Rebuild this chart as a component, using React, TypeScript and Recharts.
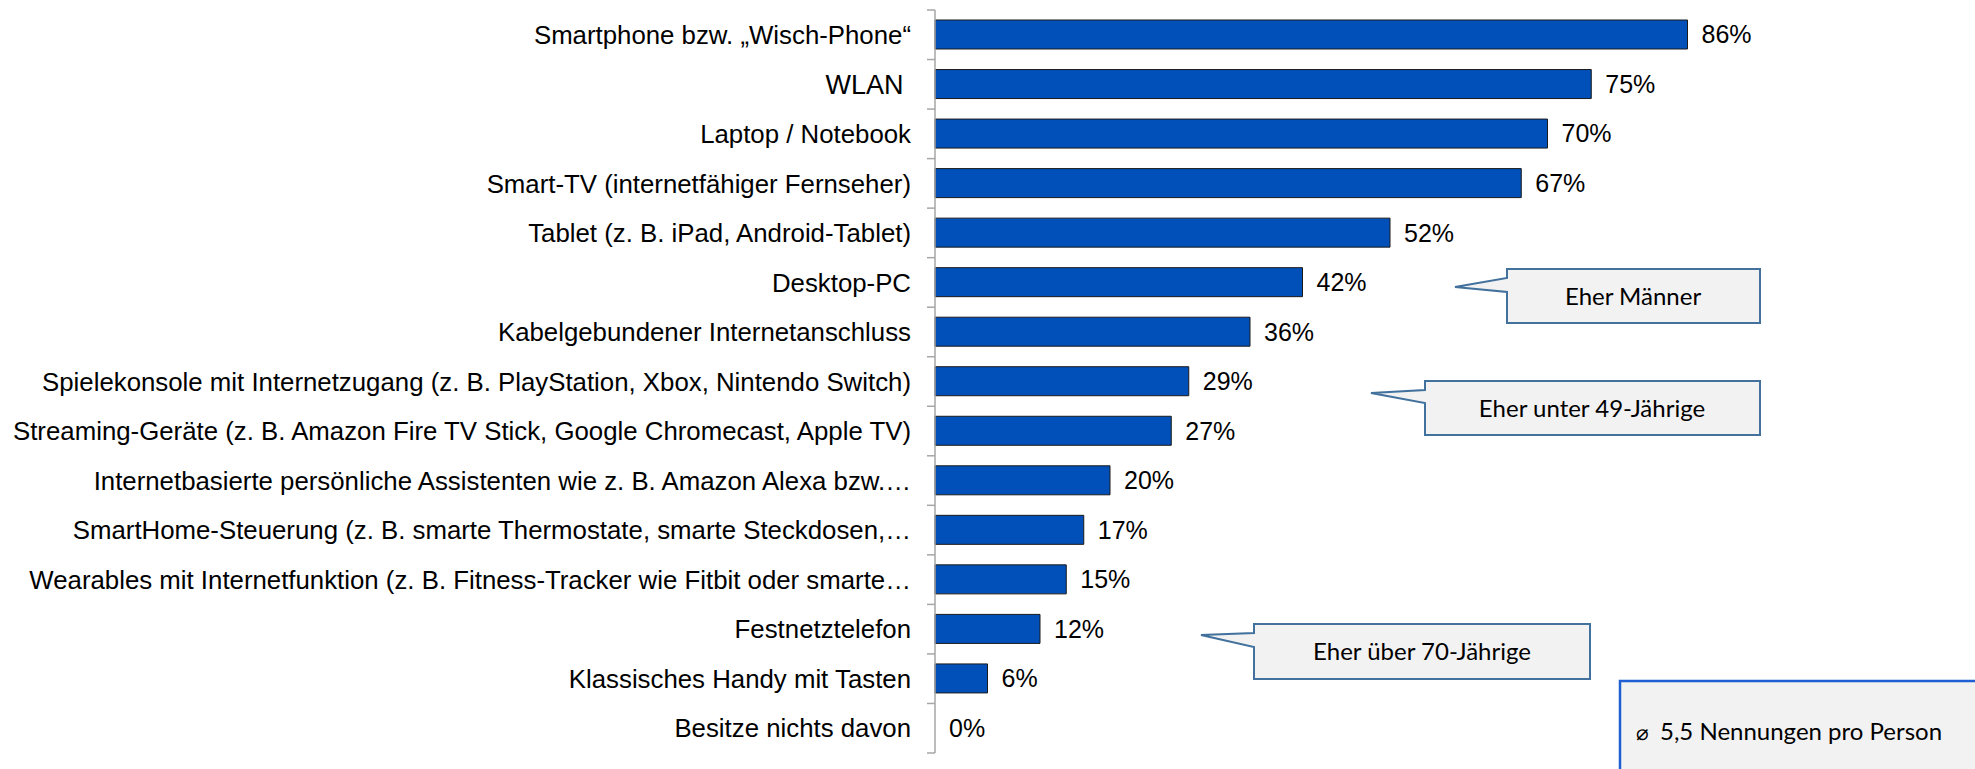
import React from "react";
import { BarChart, Bar, XAxis, YAxis, LabelList, Rectangle } from "recharts";

const categories = [
  "Smartphone bzw. „Wisch-Phone“",
  "WLAN ",
  "Laptop / Notebook",
  "Smart-TV (internetfähiger Fernseher)",
  "Tablet (z. B. iPad, Android-Tablet)",
  "Desktop-PC",
  "Kabelgebundener Internetanschluss",
  "Spielekonsole mit Internetzugang (z. B. PlayStation, Xbox, Nintendo Switch)",
  "Streaming-Geräte (z. B. Amazon Fire TV Stick, Google Chromecast, Apple TV)",
  "Internetbasierte persönliche Assistenten wie z. B. Amazon Alexa bzw.…",
  "SmartHome-Steuerung (z. B. smarte Thermostate, smarte Steckdosen,…",
  "Wearables mit Internetfunktion (z. B. Fitness-Tracker wie Fitbit oder smarte…",
  "Festnetztelefon",
  "Klassisches Handy mit Tasten",
  "Besitze nichts davon",
];

const shares = [86, 75, 70, 67, 52, 42, 36, 29, 27, 20, 17, 15, 12, 6, 0];

const data = categories.map((name, i) => ({ name, value: shares[i] }));

const W = 1975;
const H = 769;
const TOP = 10;
const BOTTOM = 16;
const AXIS_W = 935;
const TICK_SIZE = 8;
const TICK_MARGIN = 16;
const BAND = (H - TOP - BOTTOM) / categories.length;

const ARIAL = "'Liberation Sans', Arial, sans-serif";
const CALIBRI = "Lato, 'Open Sans', sans-serif";

const CategoryTick = (props: any) => {
  const { x, y, payload, index } = props;
  const half = payload?.offset ?? BAND / 2;
  const axisX = x + TICK_MARGIN + TICK_SIZE;
  const last = index === categories.length - 1;
  // WLAN is set a touch larger in the original slide
  const size = payload.value.trim() === "WLAN" ? 27 : 25.8;
  return (
    <g>
      <text
        x={x}
        y={y}
        dy="0.355em"
        textAnchor="end"
        fontSize={size}
        fontFamily={ARIAL}
        fill="#000"
        style={{ whiteSpace: "pre" }}
      >
        {payload.value}
      </text>
      <line x1={axisX - TICK_SIZE} x2={axisX} y1={y - half} y2={y - half} stroke="#A6A6A6" strokeWidth={1.5} />
      {last && (
        <line x1={axisX - TICK_SIZE} x2={axisX} y1={y + half} y2={y + half} stroke="#A6A6A6" strokeWidth={1.5} />
      )}
    </g>
  );
};

// zero-valued bars keep their label but draw no rectangle
const BarShape = (props: any) => {
  if (!props.value || props.width < 1.5) return <g />;
  return <Rectangle {...props} />;
};

const calloutStyle = { fill: "#F2F2F2", stroke: "#41719C", strokeWidth: 2 };

function Callouts() {
  return (
    <svg width={W} height={H} style={{ position: "absolute", left: 0, top: 0, pointerEvents: "none" }}>
      <path d="M1507,269 L1760,269 L1760,323 L1507,323 L1507,292 L1455,287 L1507,278 Z" {...calloutStyle} />
      <text x={1633} y={305} textAnchor="middle" fontSize={24} fontFamily={CALIBRI} fill="#000">
        Eher Männer
      </text>
      <path d="M1425,381 L1760,381 L1760,435 L1425,435 L1425,403 L1371,393 L1425,390 Z" {...calloutStyle} />
      <text x={1592} y={417} textAnchor="middle" fontSize={24} fontFamily={CALIBRI} fill="#000">
        Eher unter 49-Jährige
      </text>
      <path d="M1254,624 L1590,624 L1590,679 L1254,679 L1254,647 L1201,635 L1254,633 Z" {...calloutStyle} />
      <text x={1422} y={660} textAnchor="middle" fontSize={24} fontFamily={CALIBRI} fill="#000">
        Eher über 70-Jährige
      </text>
      <rect x={1620} y={681} width={380} height={120} fill="#F2F2F2" stroke="#1F5FD3" strokeWidth={2.5} />
      <text x={1636} y={740} fontSize={21} fontFamily="'DejaVu Sans', sans-serif" fill="#000">
        ⌀
      </text>
      <text x={1660} y={740} fontSize={24} fontFamily={CALIBRI} fill="#000">
        5,5 Nennungen pro Person
      </text>
    </svg>
  );
}

export default function App() {
  return (
    <div style={{ position: "absolute", left: 0, top: 0, width: W, height: H, background: "#fff" }}>
      <BarChart
        width={W}
        height={H}
        data={data}
        layout="vertical"
        margin={{ top: TOP, right: 165, bottom: BOTTOM, left: 0 }}
        barCategoryGap="41%"
      >
        <XAxis type="number" domain={[0, 100]} hide />
        <YAxis
          type="category"
          dataKey="name"
          width={AXIS_W}
          interval={0}
          tickSize={TICK_SIZE}
          tickMargin={TICK_MARGIN}
          tickLine={false}
          axisLine={{ stroke: "#A6A6A6", strokeWidth: 1.5 }}
          tick={<CategoryTick />}
        />
        <Bar
          dataKey="value"
          fill="#0150BA"
          stroke="#1A1A1A"
          strokeWidth={1}
          barSize={29}
          minPointSize={0.01}
          shape={<BarShape />}
          isAnimationActive={false}
        >
          <LabelList
            dataKey="value"
            position="right"
            offset={14}
            formatter={(v: any) => `${v}%`}
            style={{ fontSize: 25, fontFamily: ARIAL, fill: "#000" }}
          />
        </Bar>
      </BarChart>
      <Callouts />
    </div>
  );
}
